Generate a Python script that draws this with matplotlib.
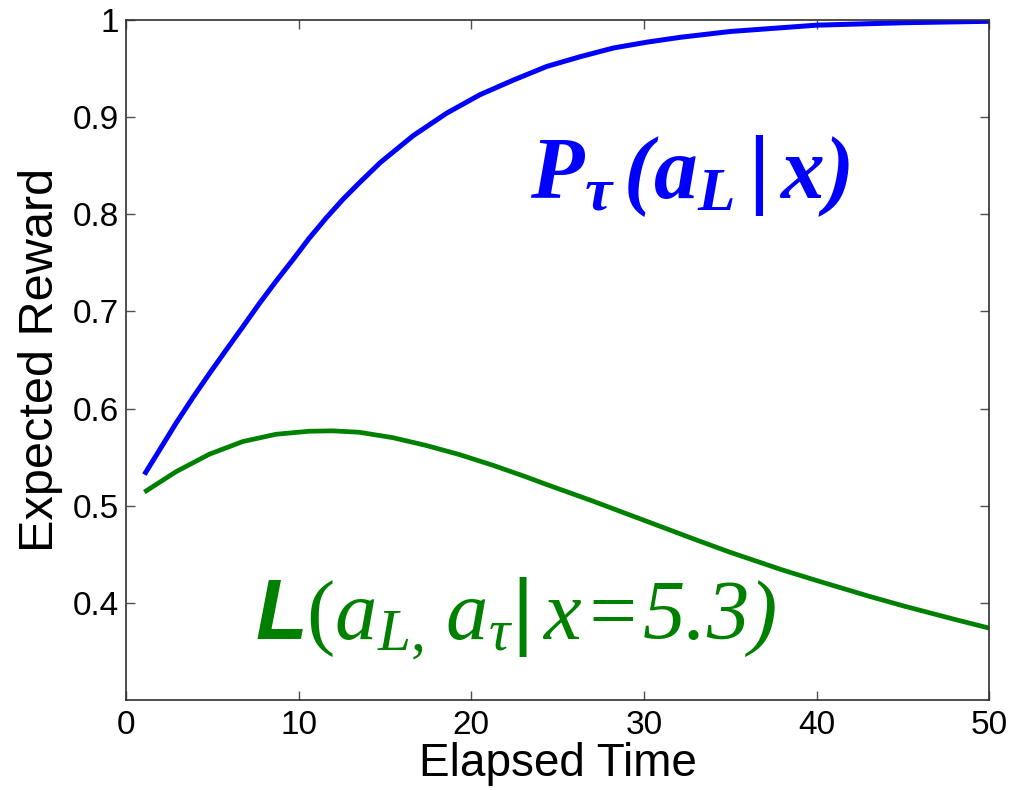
import numpy as np
import matplotlib
matplotlib.use("Agg")
import matplotlib.pyplot as plt

# values
elapsed_blue = [1.06, 1.93, 2.90, 3.86, 4.83, 5.79, 6.76, 7.72, 8.69, 9.66, 10.6, 11.59, 12.55,
                13.5, 14.72, 16.65, 18.58, 20.51, 22.44, 24.37, 26.3, 28.23, 30.17, 32.1,
                35, 40, 45, 50]
p_tau = [0.532, 0.557, 0.585, 0.611, 0.636, 0.660, 0.684, 0.708, 0.731, 0.753, 0.775, 0.796,
         0.815, 0.832, 0.853, 0.881, 0.904, 0.923, 0.938, 0.952, 0.962, 0.971, 0.977, 0.982,
         0.988, 0.9945, 0.997, 0.9985]

elapsed_green = [1.06, 2.90, 4.83, 6.76, 8.69, 10.6, 11.96, 13.5, 15.45, 17.38, 19.31, 21.25,
                 23.18, 24.33, 27, 30, 33, 35, 38, 40, 43, 45, 48, 50]
l_reward = [0.514, 0.535, 0.553, 0.566, 0.5735, 0.5766, 0.577, 0.5756, 0.570, 0.562, 0.5526,
            0.5416, 0.5296, 0.522, 0.505, 0.485, 0.465, 0.452, 0.434, 0.423, 0.407, 0.397,
            0.383, 0.374]

x_ticks = [0, 10, 20, 30, 40, 50]
y_ticks = [0.4, 0.5, 0.6, 0.7, 0.8, 0.9, 1.0]
y_tick_labels = ['0.4', '0.5', '0.6', '0.7', '0.8', '0.9', '1']

plt.rcParams['font.family'] = ['Liberation Sans', 'DejaVu Sans']
plt.rcParams['mathtext.fontset'] = 'custom'
plt.rcParams['mathtext.rm'] = 'Liberation Serif'
plt.rcParams['mathtext.it'] = 'Liberation Serif:italic'
plt.rcParams['mathtext.bf'] = 'Liberation Serif:bold:italic'
plt.rcParams['mathtext.sf'] = 'Liberation Sans:bold:italic'
plt.rcParams['mathtext.tt'] = 'Liberation Serif:italic'   # italic digits / signs
plt.rcParams['mathtext.cal'] = 'Liberation Sans'           # upright bar

fig = plt.figure(figsize=(10.19, 7.90), dpi=100)
ax = fig.add_axes([0.1237, 0.1139, 0.847, 0.861])

ax.plot(elapsed_blue, p_tau, color=(0, 0, 1), lw=3.6, solid_capstyle='butt')
ax.plot(elapsed_green, l_reward, color=(0, 0.5, 0), lw=3.4, solid_capstyle='butt')

ax.set_xlim(0, 50)
ax.set_ylim(0.3, 1.0)
ax.set_xticks(x_ticks)
ax.set_yticks(y_ticks)
ax.set_yticklabels(y_tick_labels)
ax.tick_params(direction='in', length=6.5, width=1, labelsize=24, top=True, right=True,
               colors='#505050', labelcolor='black')
ax.tick_params(axis='x', pad=7)
ax.tick_params(axis='y', pad=5)
for s in ax.spines.values():
    s.set_color('#303030')
    s.set_linewidth(1.2)

ax.set_xlabel('Elapsed Time', fontsize=33, labelpad=1)
ax.set_ylabel('Expected Reward', fontsize=35, labelpad=7)

ax.text(23.4, 0.817, r'$\mathbf{P_{\tau}\,(a_L}\,\mathcal{|}\,\mathbf{x)}$', color=(0, 0, 1),
        fontsize=63, ha='left', va='baseline')
ax.text(7.47, 0.362,
        r'$\mathsf{L}\mathit{(a_{L,}\,a_{\tau}}\mathcal{|}\,\mathit{x}\!\mathtt{=}\!\mathtt{5.3)}$',
        color=(0, 0.5, 0), fontsize=61, ha='left', va='baseline')

fig.savefig('out.png', dpi=100)
